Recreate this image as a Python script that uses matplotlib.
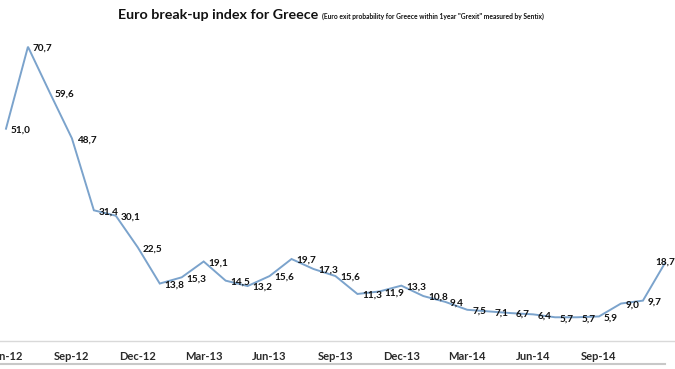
import matplotlib
matplotlib.use("Agg")
import matplotlib.pyplot as plt
from matplotlib.lines import Line2D

plt.rcParams['font.family'] = ['Lato', 'DejaVu Sans']

months = ["Jun-12", "Jul-12", "Aug-12", "Sep-12", "Oct-12", "Nov-12", "Dec-12",
          "Jan-13", "Feb-13", "Mar-13", "Apr-13", "May-13", "Jun-13", "Jul-13",
          "Aug-13", "Sep-13", "Oct-13", "Nov-13", "Dec-13", "Jan-14", "Feb-14",
          "Mar-14", "Apr-14", "May-14", "Jun-14", "Jul-14", "Aug-14", "Sep-14",
          "Oct-14", "Nov-14", "Dec-14"]
values = [51.0, 70.7, 59.6, 48.7, 31.4, 30.1, 22.5, 13.8, 15.3, 19.1, 14.5, 13.2,
          15.6, 19.7, 17.3, 15.6, 11.3, 11.9, 13.3, 10.8, 9.4, 7.5, 7.1, 6.7, 6.4,
          5.7, 5.7, 5.9, 9.0, 9.7, 18.7]
tick_labels = ["Jun-12", "Sep-12", "Dec-12", "Mar-13", "Jun-13", "Sep-13",
               "Dec-13", "Mar-14", "Jun-14", "Sep-14"]

fig = plt.figure(figsize=(6.75, 3.69), dpi=100)
fig.patch.set_facecolor('white')
ax = fig.add_axes([0, 28/369, 1, 333/369])

x = list(range(len(values)))
ax.plot(x, values, color='#7BA3CC', lw=1.4, solid_joinstyle='miter')

for i, v in enumerate(values):
    txt = f"{v:.1f}".replace('.', ',')
    if i == len(values) - 1:
        ax.annotate(txt, (i, v), xytext=(-7, 1), textcoords='offset points',
                    ha='left', va='center', fontsize=7.2, fontweight='bold', color='#111111')
    else:
        ax.annotate(txt, (i, v), xytext=(3.5, -1), textcoords='offset points',
                    ha='left', va='center', fontsize=7.2, fontweight='bold', color='#111111')

ax.set_xlim(-0.273, 30.46)
ax.set_ylim(0, 80)
ax.set_yticks([])
tick_pos = [months.index(t) for t in tick_labels]
ax.set_xticks(tick_pos)
ax.set_xticklabels(tick_labels, fontsize=8, fontweight='bold', color='#2a2a2a')
ax.tick_params(axis='x', length=0, pad=7)
for s in ['top', 'left', 'right']:
    ax.spines[s].set_visible(False)
ax.spines['bottom'].set_color('#D9D9D9')
ax.spines['bottom'].set_linewidth(1.0)
ax.patch.set_alpha(0)

fig.text(118/675, 1 - 15/369, "Euro break-up index for Greece", fontsize=10.3,
         fontweight='bold', ha='left', va='center', color='#111111')
fig.text(322/675, 1 - 16/369,
         '(Euro exit probability for Greece within 1year "Grexit" measured by Sentix)',
         fontsize=4.8, fontweight='bold', ha='left', va='center', color='#111111')

fig.add_artist(Line2D([0, 0.985], [5/369, 5/369], transform=fig.transFigure,
                      color='#C8C8C8', lw=1.5))

fig.savefig("out.png", dpi=100)
